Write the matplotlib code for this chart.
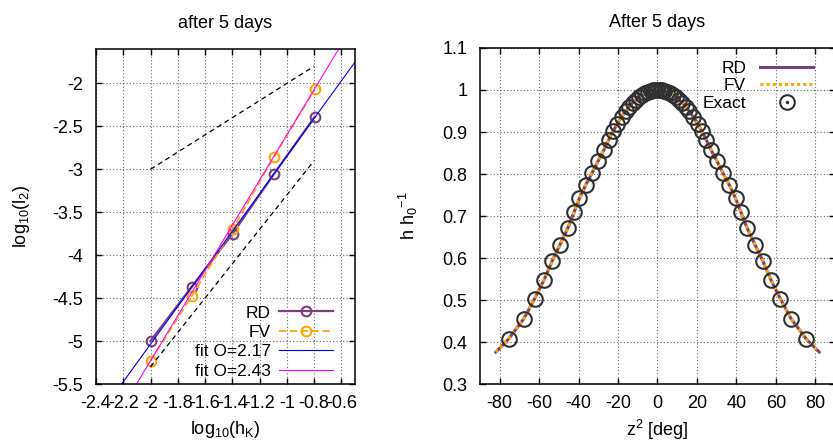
import numpy as np
import matplotlib
matplotlib.use('Agg')
import matplotlib.pyplot as plt
from matplotlib.lines import Line2D

plt.rcParams['font.family'] = ['Liberation Sans', 'DejaVu Sans']
plt.rcParams['mathtext.default'] = 'regular'
plt.rcParams['axes.unicode_minus'] = False
plt.rcParams['font.size'] = 13

# left panel: error vs mesh size (log10)
log_h = [-2.0, -1.699, -1.398, -1.097, -0.796]
rd_err = [-5.00, -4.37, -3.75, -3.06, -2.39]
fv_err = [-5.23, -4.48, -3.70, -2.86, -2.07]
fit_rd = (2.19, -0.656)   # slope, intercept of the drawn fit
fit_fv = (2.63, 0.03)
ref_x = [-2.0, -0.8]
ref1_y = [-3.0, -1.8]
ref2_y = [-5.3, -2.9]

left_xticks = [-2.4, -2.2, -2.0, -1.8, -1.6, -1.4, -1.2, -1.0, -0.8, -0.6]
left_xlabels = ['-2.4', '-2.2', '-2', '-1.8', '-1.6', '-1.4', '-1.2', '-1', '-0.8', '-0.6']
left_yticks = [-5.5, -5.0, -4.5, -4.0, -3.5, -3.0, -2.5, -2.0]
left_ylabels = ['-5.5', '-5', '-4.5', '-4', '-3.5', '-3', '-2.5', '-2']

# right panel: h / h0 profile
exact_z = [-75.5, -67.8, -62.3, -57.5, -53.4, -49.4, -45.4, -42.3, -39.6, -36.3,
           -33.1, -30.0, -27.3, -24.8, -22.5, -20.3, -18.2, -16.2, -14.3, -12.5,
           -10.8, -9.2, -7.7, -6.2, -4.8, -3.5, -2.3, -1.1, 0.0,
           1.1, 2.3, 3.5, 4.8, 6.2, 7.7, 9.2, 10.8,
           12.5, 14.3, 16.2, 18.2, 20.3, 22.5, 24.8, 27.3, 30.0, 33.1,
           36.3, 39.6, 42.3, 45.4, 49.4, 53.4, 57.5, 62.3, 67.8, 75.5]
exact_h = [0.407, 0.455, 0.503, 0.548, 0.593, 0.632, 0.672, 0.709, 0.742, 0.775,
           0.803, 0.832, 0.856, 0.881, 0.902, 0.920, 0.936, 0.949, 0.960, 0.970,
           0.977, 0.984, 0.988, 0.993, 0.996, 0.998, 0.999, 1.000, 1.000,
           1.000, 0.999, 0.998, 0.996, 0.993, 0.988, 0.984, 0.977,
           0.970, 0.960, 0.949, 0.936, 0.920, 0.902, 0.881, 0.856, 0.832, 0.803,
           0.775, 0.742, 0.709, 0.672, 0.632, 0.593, 0.548, 0.503, 0.455, 0.407]
model_z = [-82.0] + exact_z + [82.0]
rd_h = [0.376] + exact_h + [0.376]
fv_h = [0.376] + exact_h + [0.376]

right_xticks = [-80, -60, -40, -20, 0, 20, 40, 60, 80]
right_yticks = [0.3, 0.4, 0.5, 0.6, 0.7, 0.8, 0.9, 1.0, 1.1]
right_ylabels = ['0.3', '0.4', '0.5', '0.6', '0.7', '0.8', '0.9', '1', '1.1']

purple = '#7b3f7f'
orange = '#ffa500'


def style_axes(ax):
    ax.tick_params(direction='in', length=4.5, width=1.0, top=True, right=True,
                   labelsize=13, color='black')
    ax.tick_params(axis='y', pad=9)
    ax.tick_params(axis='x', pad=8)
    for s in ax.spines.values():
        s.set_linewidth(1.1)
    ax.grid(True, linestyle=(0, (1, 2)), color='#666666', linewidth=0.8)
    ax.set_axisbelow(True)


fig = plt.figure(figsize=(8.33, 4.44), dpi=100)
ax1 = fig.add_axes([0.1152, 0.1351, 0.311, 0.7545])
ax2 = fig.add_axes([0.5762, 0.1351, 0.4262, 0.7568])

# ---- left
xs = np.array([-2.4, -0.5])
ax1.plot(log_h, rd_err, '-o', color=purple, lw=1.6, ms=7, mfc='none', mew=1.5,
         label='RD')
ax1.plot(log_h, fv_err, '--o', color=orange, lw=1.3, ms=7, mfc='none', mew=1.5,
         dashes=(4, 2), label='FV')
ax1.plot(xs, fit_rd[0] * xs + fit_rd[1], color='#0000ff', lw=0.8,
         label='fit O=2.17')
ax1.plot(xs, fit_fv[0] * xs + fit_fv[1], color='#ff00ff', lw=0.8,
         label='fit O=2.43')
ax1.plot(ref_x, ref1_y, color='black', lw=0.9, dashes=(4, 3))
ax1.plot(ref_x, ref2_y, color='black', lw=0.9, dashes=(4, 3))
ax1.set_xlim(-2.4, -0.5)
ax1.set_ylim(-5.5, -1.6)
ax1.set_xticks(left_xticks)
ax1.set_xticklabels(left_xlabels)
ax1.set_yticks(left_yticks)
ax1.set_yticklabels(left_ylabels)
style_axes(ax1)
ax1.set_title('after 5 days', fontsize=13, pad=15)
ax1.set_xlabel(r'log$_{10}$(h$_K$)', fontsize=13, labelpad=5)
ax1.set_ylabel(r'log$_{10}$(l$_2$)', fontsize=13, labelpad=15)
ax1.legend(loc='lower right', bbox_to_anchor=(0.915, 0.015), frameon=False,
           markerfirst=False, handlelength=3.1, handletextpad=0.5,
           labelspacing=0.25, borderpad=0, borderaxespad=0, fontsize=12.5)

# ---- right
ax2.plot(model_z, rd_h, color=purple, lw=2.2)
ax2.plot(model_z, fv_h, color=orange, lw=2.2, linestyle=(0, (1, 1)))
ax2.plot(exact_z, exact_h, 'o', ms=10.5, mfc='none', mec='#303030', mew=1.5)
ax2.set_xlim(-90, 90)
ax2.set_ylim(0.3, 1.1)
ax2.set_xticks(right_xticks)
ax2.set_yticks(right_yticks)
ax2.set_yticklabels(right_ylabels)
style_axes(ax2)
ax2.set_title('After 5 days', fontsize=13, pad=15)
ax2.set_xlabel(r'z$^2$ [deg]', fontsize=13, labelpad=4)
ax2.set_ylabel(r'h h$_0$$^{-1}$', fontsize=13, labelpad=16)

h_rd = Line2D([], [], color=purple, lw=2.2)
h_fv = Line2D([], [], color=orange, lw=2.2, linestyle=(0, (1, 1)))
h_ex = (Line2D([], [], ls='none', marker='o', ms=10.5, mfc='none', mec='#303030', mew=1.5),
        Line2D([], [], ls='none', marker='.', ms=3, color='#303030'))
ax2.legend([h_rd, h_fv, h_ex], ['RD', 'FV', 'Exact'], loc='upper right',
           bbox_to_anchor=(0.938, 0.962), frameon=False, markerfirst=False,
           handlelength=3.05, handletextpad=0.8, labelspacing=0.13,
           borderpad=0, borderaxespad=0, fontsize=12.5)

fig.savefig('out.png', dpi=100)
